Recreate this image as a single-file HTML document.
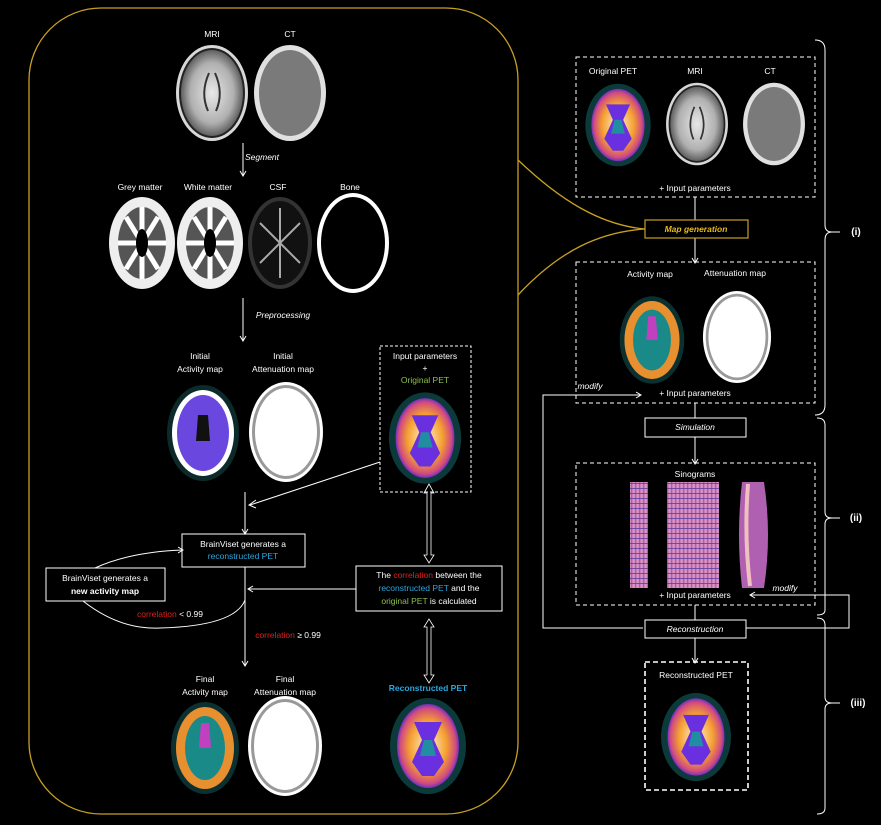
<!DOCTYPE html>
<html><head><meta charset="utf-8"><style>
html,body{margin:0;padding:0;background:#000;}
svg{display:block;font-family:"Liberation Sans",sans-serif;}
text{fill:#fff;font-size:8.5px;text-anchor:middle;}
.i{font-style:italic;}
.b{font-weight:bold;}
</style></head><body>
<svg width="881" height="825" viewBox="0 0 881 825" xmlns="http://www.w3.org/2000/svg">
<defs>
<radialGradient id="pet" cx="50%" cy="50%" r="50%"><stop offset="0" stop-color="#fff3d0"/><stop offset="0.6" stop-color="#f5a030"/><stop offset="0.9" stop-color="#d04a80"/><stop offset="1" stop-color="#7030c0"/></radialGradient>
<radialGradient id="mri" cx="50%" cy="50%" r="50%"><stop offset="0" stop-color="#e8e8e8"/><stop offset="0.7" stop-color="#b0b0b0"/><stop offset="1" stop-color="#606060"/></radialGradient>
<linearGradient id="sino" x1="0" x2="1"><stop offset="0" stop-color="#c070b0"/><stop offset="0.5" stop-color="#e8a0c0"/><stop offset="1" stop-color="#8050c0"/></linearGradient>
<pattern id="stripe" width="4" height="5" patternUnits="userSpaceOnUse"><rect width="4" height="5" fill="url(#sino)"/><rect y="3" width="4" height="1" fill="#5030a0" opacity="0.7"/></pattern>
<g id="petb"><ellipse rx="38" ry="48" fill="#0c3a3a"/><ellipse rx="31" ry="42" fill="url(#pet)"/><path d="M-14,-24 L14,-24 L6,-6 L16,16 L6,30 L-6,30 L-16,16 L-6,-6 Z" fill="#6a30e0"/><path d="M-4,-6 L4,-6 L8,10 L-8,10Z" fill="#208ea0"/></g>
<g id="mrib"><ellipse rx="36" ry="48" fill="#d8d8d8"/><ellipse rx="33" ry="45" fill="#222"/><ellipse rx="31" ry="43" fill="url(#mri)"/><path d="M-3,-20 Q-12,0 -4,18 M3,-20 Q12,0 4,18" stroke="#333" stroke-width="2" fill="none"/></g>
<g id="ctb"><ellipse rx="36" ry="48" fill="#e0e0e0"/><ellipse rx="31" ry="43" fill="#7a7a7a"/></g>
<g id="attb"><ellipse rx="37" ry="50" fill="#fff"/><ellipse rx="34" ry="47" fill="#999"/><ellipse rx="31" ry="44" fill="#fff"/></g>
<g id="actb"><ellipse rx="34" ry="46" fill="#0c3030"/><ellipse rx="29" ry="41" fill="#e89030"/><ellipse rx="20" ry="32" fill="#1a8a88"/><path d="M-4,-25 L4,-25 L6,0 L-6,0Z" fill="#c040c0"/></g>
<g id="segb"><ellipse rx="33" ry="46" fill="#eee"/><ellipse rx="24" ry="36" fill="#555"/><path d="M0,-36 L0,36 M-24,0 L24,0 M-16,-26 L16,26 M16,-26 L-16,26" stroke="#fff" stroke-width="5"/><ellipse rx="6" ry="14" fill="#000"/></g>
</defs>

<rect x="29" y="8" width="489" height="806" rx="72" fill="none" stroke="#c8a020" stroke-width="1.3"/>
<path d="M518,160 C560,200 600,225 645,229" stroke="#c8a020" fill="none" stroke-width="1.3"/>
<path d="M518,295 C560,250 600,232 645,229" stroke="#c8a020" fill="none" stroke-width="1.3"/>

<text x="212" y="37">MRI</text><text x="290" y="37">CT</text>
<use href="#mrib" x="212" y="93"/><use href="#ctb" x="290" y="93"/>
<g stroke="#fff" stroke-width="1" fill="none">
<line x1="243" y1="143" x2="243" y2="175"/><path d="M240,171 L243,176 L246,171"/>
<line x1="243" y1="298" x2="243" y2="340"/><path d="M240,336 L243,341 L246,336"/>
<line x1="380" y1="462" x2="250" y2="505"/><path d="M256,500 L249,505 L256,508"/>
<line x1="245" y1="492" x2="245" y2="533"/><path d="M242,529 L245,534 L248,529"/>
<line x1="245" y1="567" x2="245" y2="665"/><path d="M242,661 L245,666 L248,661"/>
<line x1="356" y1="589" x2="249" y2="589"/><path d="M253,586 L248,589 L253,592"/>
<path d="M95,568 Q130,552 182,550"/><path d="M178,547 L183,550 L178,553"/>
<path d="M83,601 Q120,630 160,628 Q235,626 245,600"/>
<rect x="182" y="534" width="123" height="33"/>
<rect x="46" y="568" width="119" height="33"/>
<rect x="356" y="566" width="146" height="45"/>
<rect x="380" y="346" width="91" height="146" stroke-dasharray="3,2"/>
<path d="M427,555 L427,493 L424,493 L429,484 L434,493 L431,493 L431,555 L434,555 L429,563 L424,555Z" stroke-width="0.8"/>
<path d="M427,675 L427,627 L424,627 L429,619 L434,627 L431,627 L431,675 L434,675 L429,683 L424,675Z" stroke-width="0.8"/>
</g>
<text x="262" y="160" class="i">Segment</text>
<text x="140" y="190">Grey matter</text><text x="208" y="190">White matter</text><text x="278" y="190">CSF</text><text x="350" y="190">Bone</text>
<use href="#segb" x="142" y="243"/><use href="#segb" x="210" y="243"/>
<g transform="translate(280,243)"><ellipse rx="32" ry="46" fill="#333"/><ellipse rx="28" ry="42" fill="#111"/><path d="M-20,-20 L20,20 M20,-20 L-20,20 M0,-35 L0,35" stroke="#aaa" stroke-width="2"/></g>
<g transform="translate(353,243)"><ellipse rx="36" ry="50" fill="#fff"/><ellipse rx="32" ry="46" fill="#000"/></g>
<text x="283" y="318" class="i">Preprocessing</text>
<text x="200" y="359">Initial</text><text x="200" y="372">Activity map</text>
<text x="283" y="359">Initial</text><text x="283" y="372">Attenuation map</text>
<g transform="translate(203,433)"><ellipse rx="36" ry="48" fill="#0c2a2a"/><ellipse rx="31" ry="43" fill="#fff"/><ellipse rx="26" ry="38" fill="#6a48e0"/><path d="M-5,-18 L5,-18 L7,8 L-7,8Z" fill="#111"/></g>
<use href="#attb" x="286" y="432"/>
<text x="425" y="359">Input parameters</text><text x="425" y="371">+</text><text x="425" y="383" style="fill:#8cc04a">Original PET</text>
<g transform="translate(425,438) scale(0.95)"><use href="#petb"/></g>
<text x="243" y="547">BrainViset generates a</text>
<text x="243" y="559" style="fill:#29a8e0">reconstructed PET</text>
<text x="105" y="581">BrainViset generates a</text>
<text x="105" y="594" class="b">new activity map</text>
<text x="170" y="617"><tspan style="fill:#e02020">correlation</tspan> &lt; 0.99</text>
<text x="288" y="638"><tspan style="fill:#e02020">correlation</tspan> ≥ 0.99</text>
<text x="429" y="578">The <tspan style="fill:#e02020">correlation</tspan> between the</text>
<text x="429" y="591"><tspan style="fill:#29a8e0">reconstructed PET</tspan> and the</text>
<text x="429" y="604"><tspan style="fill:#8cc04a">original PET</tspan> is calculated</text>
<text x="205" y="682">Final</text><text x="205" y="695">Activity map</text>
<text x="285" y="682">Final</text><text x="285" y="695">Attenuation map</text>
<text x="428" y="691" class="b" style="fill:#29a8e0">Reconstructed PET</text>
<use href="#actb" x="205" y="748"/><use href="#attb" x="285" y="746"/><use href="#petb" x="428" y="746"/>

<g stroke="#fff" stroke-width="1" fill="none">
<rect x="576" y="57" width="239" height="140" stroke-dasharray="4,3"/>
<rect x="576" y="262" width="239" height="141" stroke-dasharray="4,3"/>
<rect x="576" y="463" width="239" height="142" stroke-dasharray="4,3"/>
<rect x="645" y="662" width="103" height="128" stroke-dasharray="5,3" stroke-width="1.6"/>
<line x1="695" y1="197" x2="695" y2="220"/>
<line x1="695" y1="238" x2="695" y2="262"/><path d="M692,258 L695,263 L698,258"/>
<line x1="695" y1="403" x2="695" y2="418"/>
<rect x="645" y="418" width="101" height="19"/>
<line x1="695" y1="437" x2="695" y2="463"/><path d="M692,459 L695,464 L698,459"/>
<line x1="695" y1="605" x2="695" y2="620"/>
<rect x="645" y="620" width="101" height="18"/>
<line x1="695" y1="638" x2="695" y2="662"/><path d="M692,658 L695,663 L698,658"/>
<path d="M643,628 L543,628 L543,395 L640,395"/><path d="M636,392 L641,395 L636,398"/>
<path d="M746,628 L849,628 L849,595 L750,595"/><path d="M755,592 L750,595 L755,598"/>
<path d="M815,40 Q825,40 825,50 L825,225 Q825,232 832,232 L840,232 M832,232 Q825,232 825,240 L825,405 Q825,415 815,415"/>
<path d="M817,418 Q825,418 825,425 L825,512 Q825,518 832,518 L840,518 M832,518 Q825,518 825,524 L825,610 Q825,615 817,615"/>
<path d="M817,618 Q825,618 825,625 L825,697 Q825,703 832,703 L840,703 M832,703 Q825,703 825,709 L825,808 Q825,814 817,814"/>
</g>
<rect x="645" y="220" width="103" height="18" fill="none" stroke="#c8a020" stroke-width="1.2"/>
<text x="696" y="232" class="i b" style="fill:#e8b820">Map generation</text>
<text x="613" y="74">Original PET</text><text x="695" y="74">MRI</text><text x="770" y="74">CT</text>
<g transform="translate(618,125) scale(0.86)"><use href="#petb"/></g>
<g transform="translate(697,124) scale(0.86)"><use href="#mrib"/></g>
<g transform="translate(774,124) scale(0.86)"><use href="#ctb"/></g>
<text x="695" y="191">+ Input parameters</text>
<text x="650" y="277">Activity map</text><text x="735" y="276">Attenuation map</text>
<g transform="translate(652,340) scale(0.95)"><use href="#actb"/></g>
<g transform="translate(737,337) scale(0.92)"><use href="#attb"/></g>
<text x="590" y="389" class="i">modify</text>
<text x="695" y="396">+ Input parameters</text>
<text x="695" y="430" class="i">Simulation</text>
<text x="695" y="477">Sinograms</text>
<rect x="630" y="482" width="18" height="106" fill="url(#stripe)"/>
<rect x="667" y="482" width="52" height="106" fill="url(#stripe)"/>
<path d="M742,482 L764,482 Q772,535 764,588 L742,588 Q736,535 742,482Z" fill="#b060b0"/>
<path d="M748,484 Q744,535 750,586" stroke="#f0c0c0" stroke-width="4" fill="none"/>
<text x="695" y="598">+ Input parameters</text>
<text x="785" y="591" class="i">modify</text>
<text x="695" y="632" class="i">Reconstruction</text>
<text x="696" y="678">Reconstructed PET</text>
<g transform="translate(696,737) scale(0.92)"><use href="#petb"/></g>
<text x="856" y="235" class="b" style="font-size:10px">(i)</text>
<text x="856" y="521" class="b" style="font-size:10px">(ii)</text>
<text x="858" y="706" class="b" style="font-size:10px">(iii)</text>
</svg>
</body></html>
